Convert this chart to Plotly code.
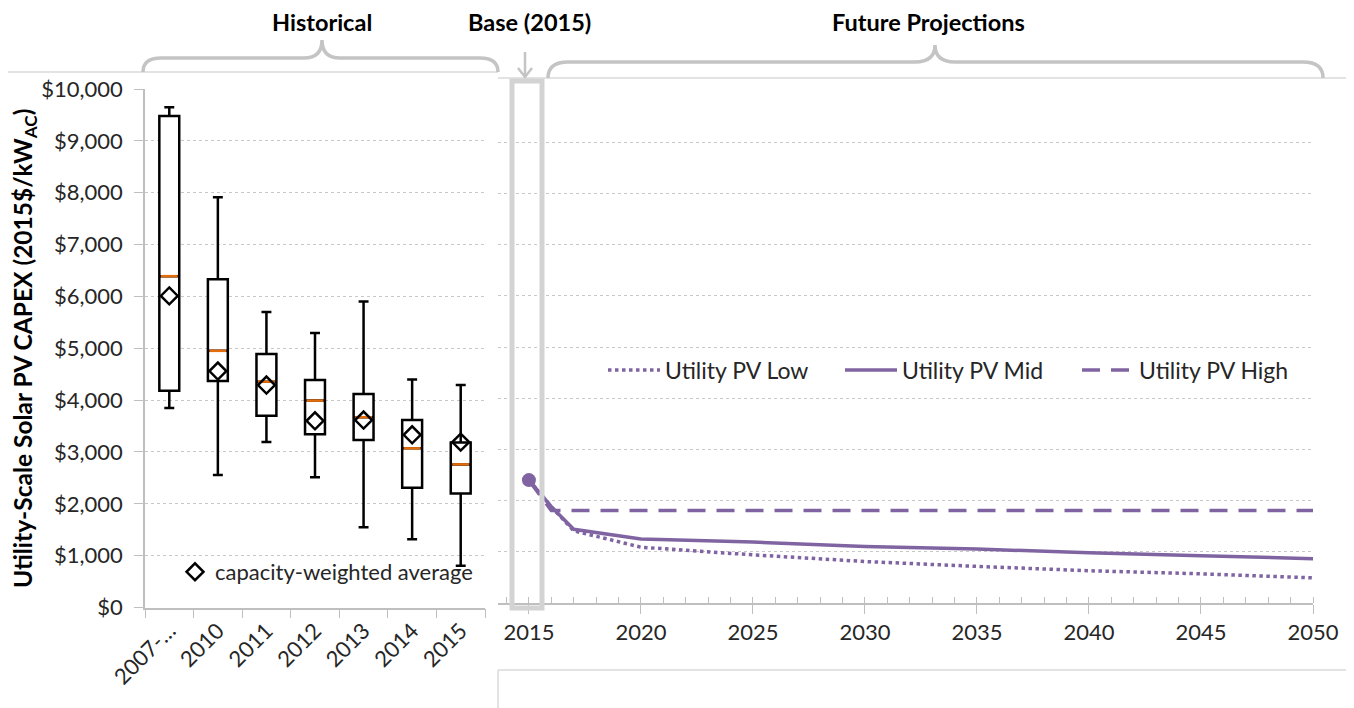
import plotly.graph_objects as go

# historical box stats (2015$/kW-AC)
categories = ["2007-…", "2010", "2011", "2012", "2013", "2014", "2015"]
whisker_low = [3850, 2555, 3190, 2510, 1550, 1315, 805]
q1 = [4180, 4370, 3700, 3340, 3230, 2310, 2200]
median = [6390, 4950, 4355, 3990, 3670, 3070, 2760]
q3 = [9480, 6330, 4890, 4390, 4120, 3615, 3180]
whisker_high = [9650, 7910, 5700, 5295, 5900, 4395, 4290]
cw_average = [6010, 4560, 4290, 3600, 3615, 3330, 3190]

# projections
years = [2015, 2016, 2017, 2020, 2025, 2030, 2035, 2040, 2045, 2050]
pv_low = [2400, 1880, 1410, 1090, 940, 810, 715, 630, 570, 490]
pv_mid = [2400, 1880, 1440, 1250, 1190, 1105, 1055, 980, 925, 865]
pv_high = [2400, 1805, 1805, 1805, 1805, 1805, 1805, 1805, 1805, 1805]

W, H = 1354, 708
OFF = 8  # page body margin
FONT = "Lato"
PURPLE = "#8064a2"
GRID = "#c8c8c8"
AXIS = "#bfbfbf"
TXT = "#262626"


def px(x):
    return (x - OFF) / W


def py(y):
    return 1 - (y - OFF) / H


fig = go.Figure()

fig.add_trace(go.Box(
    x=categories, q1=q1, median=median, q3=q3,
    lowerfence=whisker_low, upperfence=whisker_high,
    width=0.41, whiskerwidth=0.5,
    line=dict(color="black", width=2.5), fillcolor="white",
    showlegend=False, hoverinfo="skip",
))
fig.add_trace(go.Scatter(
    x=categories, y=median, mode="markers",
    marker=dict(symbol="line-ew", size=12, line=dict(color="#e46c0a", width=2.5)),
    showlegend=False, hoverinfo="skip",
))
fig.add_trace(go.Scatter(
    x=categories, y=cw_average, mode="markers", name="capacity-weighted average",
    marker=dict(symbol="diamond-open", size=13, color="black", line=dict(color="black", width=2.5)),
    legend="legend2",
))

fig.add_trace(go.Scatter(
    x=years, y=pv_low, mode="lines", name="Utility PV Low",
    line=dict(color=PURPLE, width=3.5, dash="dot"), xaxis="x2", yaxis="y2",
))
fig.add_trace(go.Scatter(
    x=years, y=pv_mid, mode="lines", name="Utility PV Mid",
    line=dict(color=PURPLE, width=3.5), xaxis="x2", yaxis="y2",
))
fig.add_trace(go.Scatter(
    x=years, y=pv_high, mode="lines", name="Utility PV High",
    line=dict(color=PURPLE, width=3.5, dash="18px,11px"), xaxis="x2", yaxis="y2",
))
fig.add_trace(go.Scatter(
    x=years[:1], y=pv_mid[:1], mode="markers",
    marker=dict(color=PURPLE, size=14), xaxis="x2", yaxis="y2",
    showlegend=False, hoverinfo="skip",
))

# braces, frame lines and the base-year marker box (pixel positions)
shapes = []
line_style = dict(color="#dadada", width=1.5)
shapes.append(dict(type="line", xref="paper", yref="paper", x0=px(0), x1=px(498), y0=py(72), y1=py(72), line=line_style))
shapes.append(dict(type="line", xref="paper", yref="paper", x0=px(498), x1=px(1370), y0=py(78), y1=py(78), line=line_style))
shapes.append(dict(type="line", xref="paper", yref="paper", x0=px(498), x1=px(1370), y0=py(670), y1=py(670), line=line_style))
shapes.append(dict(type="line", xref="paper", yref="paper", x0=px(498), x1=px(498), y0=py(670), y1=py(720), line=line_style))


def brace(x0, x1, xt, ybase, ybar, ytip, r):
    p = [
        (x0, ybase), ("Q", x0, ybar, x0 + r, ybar), (xt - r, ybar),
        ("Q", xt, ybar, xt, ytip), ("Q", xt, ybar, xt + r, ybar),
        (x1 - r, ybar), ("Q", x1, ybar, x1, ybase),
    ]
    s = ""
    for i, pt in enumerate(p):
        if pt[0] == "Q":
            s += f" Q{px(pt[1]):.5f},{py(pt[2]):.5f} {px(pt[3]):.5f},{py(pt[4]):.5f}"
        else:
            s += (" M" if i == 0 else " L") + f"{px(pt[0]):.5f},{py(pt[1]):.5f}"
    return s.strip()


brace_style = dict(color="#c4c4c4", width=3.5)
shapes.append(dict(type="path", xref="paper", yref="paper", path=brace(143, 498, 322, 72, 58, 40, 18), line=brace_style))
shapes.append(dict(type="path", xref="paper", yref="paper", path=brace(548, 1323, 935, 78, 62, 45, 20), line=brace_style))

# arrow to base year
arrow_style = dict(color="#c4c4c4", width=2.5)
shapes.append(dict(type="line", xref="paper", yref="paper", x0=px(525), x1=px(525), y0=py(52), y1=py(77), line=arrow_style))
shapes.append(dict(type="path", xref="paper", yref="paper",
                   path=f"M{px(518):.5f},{py(68):.5f} L{px(525):.5f},{py(77):.5f} L{px(532):.5f},{py(68):.5f}",
                   line=arrow_style))
shapes.append(dict(type="rect", xref="paper", yref="paper", x0=px(512), x1=px(542), y0=py(608), y1=py(81),
                   line=dict(color="#d3d3d3", width=5), layer="above"))

annotations = [
    dict(text="<b>Historical</b>", x=px(322), y=py(22)),
    dict(text="<b>Base (2015)</b>", x=px(529), y=py(22)),
    dict(text="<b>Future Projections</b>", x=px(929), y=py(22)),
]
for a in annotations:
    a.update(xref="paper", yref="paper", showarrow=False, xanchor="center", yanchor="middle",
             font=dict(family=FONT, size=23.5, color="black"))

tick_font = dict(family=FONT, size=22, color=TXT)

fig.update_layout(
    width=W, height=H, autosize=False,
    margin=dict(l=0, r=0, t=0, b=0, autoexpand=False),
    paper_bgcolor="white", plot_bgcolor="white",
    font=dict(family=FONT, color=TXT),
    shapes=shapes, annotations=annotations,
    xaxis=dict(
        domain=[px(145), px(485)], anchor="y", type="category", range=[-0.5, 6.5],
        tickson="boundaries", ticks="outside", ticklen=9, tickcolor=AXIS,
        showline=True, linecolor=AXIS, linewidth=1.5, tickangle=-45, tickfont=tick_font,
        showgrid=False, automargin=False,
    ),
    yaxis=dict(
        domain=[py(607.5), py(89)], anchor="x", range=[0, 10000], dtick=1000,
        tickprefix="$", tickformat=",d", ticks="outside", ticklen=9, tickcolor=AXIS,
        ticklabelstandoff=7,
        showline=True, linecolor=AXIS, linewidth=1.5, tickfont=tick_font,
        showgrid=True, gridcolor=GRID, griddash="3px,3px", gridwidth=1, zeroline=False,
        automargin=False,
        title=dict(text="<b>Utility-Scale Solar PV CAPEX (2015$/kW<sub>AC</sub>)</b>",
                   font=dict(family=FONT, size=24.5, color="black"), standoff=6),
    ),
    xaxis2=dict(
        domain=[px(498), px(1313)], anchor="y2", range=[2013.62, 2050], dtick=5, tick0=2015,
        ticks="outside", ticklen=9, tickcolor=AXIS, tickformat="d",
        minor=dict(dtick=1, ticks="inside", ticklen=6, tickcolor=AXIS),
        showline=True, linecolor=AXIS, linewidth=1.5, tickfont=tick_font, showgrid=False,
        automargin=False,
    ),
    yaxis2=dict(
        domain=[py(603), py(91)], anchor="x2", range=[0, 10000], dtick=1000,
        showticklabels=False, showline=False, ticks="",
        showgrid=True, gridcolor=GRID, griddash="3px,3px", gridwidth=1, zeroline=False,
        automargin=False,
    ),
    legend=dict(
        orientation="h", x=px(603), y=py(370), xanchor="left", yanchor="middle",
        font=dict(family=FONT, size=23, color=TXT), bgcolor="rgba(0,0,0,0)",
        itemwidth=52, entrywidth=170, entrywidthmode="pixels",
    ),
    legend2=dict(
        x=px(175), y=py(572), xanchor="left", yanchor="middle",
        font=dict(family=FONT, size=22, color=TXT), bgcolor="rgba(0,0,0,0)",
    ),
)

fig.write_html("out.html")
